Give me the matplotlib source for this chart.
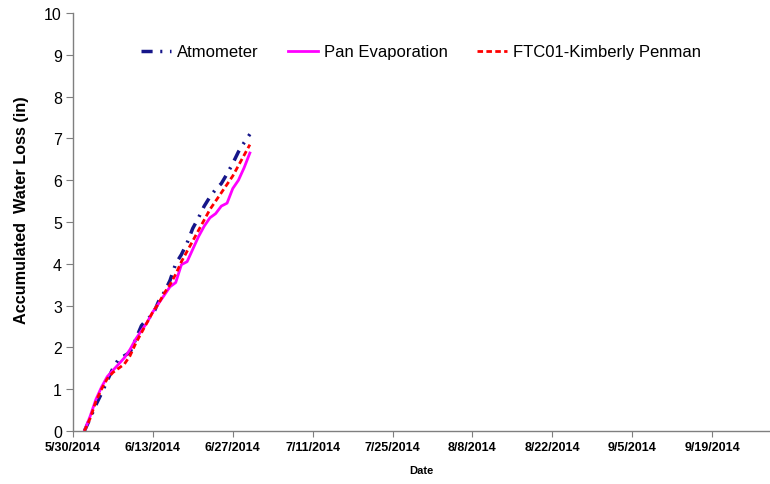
import pandas as pd
import matplotlib
matplotlib.use("Agg")
import matplotlib.pyplot as plt
import matplotlib.dates as mdates

plt.rcParams['font.family'] = ['Liberation Sans', 'DejaVu Sans']

# Daily accumulated water loss (in)
dates = pd.date_range('2014-06-01', '2014-06-30', freq='D')
atmometer = [0, 0.30, 0.62, 0.90, 1.20, 1.50, 1.72, 1.80, 1.88, 2.20,
             2.52, 2.68, 2.78, 3.10, 3.32, 3.60, 4.00, 4.22, 4.50, 4.85,
             5.10, 5.38, 5.60, 5.78, 5.92, 6.15, 6.40, 6.68, 6.90, 7.10]
pan_evap = [0, 0.35, 0.75, 1.05, 1.30, 1.45, 1.60, 1.75, 1.95, 2.20,
            2.40, 2.60, 2.85, 3.05, 3.25, 3.45, 3.55, 3.98, 4.05, 4.35,
            4.65, 4.90, 5.10, 5.20, 5.38, 5.45, 5.80, 6.00, 6.30, 6.65]
kimberly = [0, 0.30, 0.70, 1.00, 1.25, 1.40, 1.50, 1.60, 1.80, 2.10,
            2.35, 2.60, 2.85, 3.05, 3.30, 3.50, 3.75, 4.05, 4.30, 4.55,
            4.80, 5.05, 5.30, 5.50, 5.70, 5.90, 6.10, 6.35, 6.60, 6.85]

tick_dates = pd.date_range('2014-05-30', '2014-09-19', freq='14D')

fig = plt.figure(figsize=(7.7, 4.85), dpi=100)
ax = fig.add_axes([0.0948, 0.1093, 0.904, 0.8619])

ax.plot(dates, atmometer, color='#16168a', lw=2.5,
        dashes=(3.2, 2.2, 0.6, 2.2), label='Atmometer')
ax.plot(dates, pan_evap, color='#ff00ff', lw=2, label='Pan Evaporation')
ax.plot(dates, kimberly, color='#ff0000', lw=2, dashes=(2, 1.2),
        label='FTC01-Kimberly Penman')

ax.set_xlim(pd.Timestamp('2014-05-30'), pd.Timestamp('2014-09-29'))
ax.set_ylim(0, 10)
ax.set_yticks(range(0, 11))
ax.set_xticks(tick_dates)
ax.xaxis.set_major_formatter(
    matplotlib.ticker.FuncFormatter(
        lambda v, p: '{d.month}/{d.day}/{d.year}'.format(d=mdates.num2date(v))))

for s in ['top', 'right']:
    ax.spines[s].set_visible(False)
for s in ['left', 'bottom']:
    ax.spines[s].set_color('#7f7f7f')
    ax.spines[s].set_linewidth(1)

ax.tick_params(axis='y', direction='out', length=5, color='#7f7f7f',
               labelsize=11.5, pad=3)
ax.tick_params(axis='x', direction='out', length=4, color='#7f7f7f',
               labelsize=9, pad=3)
for t in ax.get_xticklabels():
    t.set_fontweight('bold')

ax.set_ylabel('Accumulated  Water Loss (in)', fontsize=11.7, fontweight='bold')
ax.yaxis.set_label_coords(-0.063, 0.53)
ax.set_xlabel('Date', fontsize=8, fontweight='bold', labelpad=9)

ax.legend(loc='center', bbox_to_anchor=(0.5, 0.907), ncol=3, frameon=False,
          fontsize=12, handlelength=1.8, columnspacing=1.75, handletextpad=0.35)

fig.savefig('out.png', dpi=100)
